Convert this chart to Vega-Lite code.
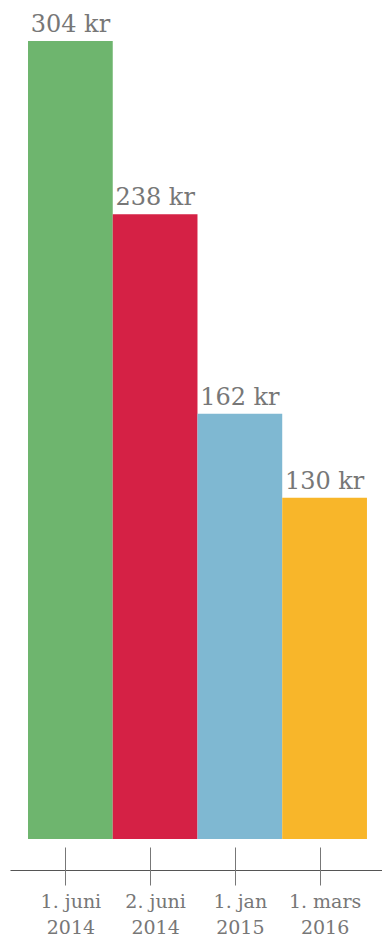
{
  "$schema": "https://vega.github.io/schema/vega-lite/v6.json",
  "autosize": "none",
  "padding": {"left": 10, "right": 0, "top": 0, "bottom": 97},
  "width": 372,
  "height": 839,
  "config": {"view": {"stroke": null}, "font": "DejaVu Serif"},
  "data": {"values": [
    {"dato": "1. juni 2014", "pris": 304},
    {"dato": "2. juni 2014", "pris": 238},
    {"dato": "1. jan 2015", "pris": 162},
    {"dato": "1. mars 2016", "pris": 130}
  ]},
  "transform": [{"calculate": "datum.pris + ' kr'", "as": "etikett"}],
  "resolve": {"axis": {"x": "independent"}},
  "layer": [
    {
      "mark": {"type": "bar"},
      "encoding": {
        "x": {
          "field": "dato", "type": "nominal", "sort": null,
          "scale": {"paddingInner": 0, "paddingOuter": 0.195, "align": 0.545},
          "axis": {"orient": "bottom", "title": null, "labels": false, "ticks": false, "domain": true,
                   "offset": 31, "domainColor": "#555", "domainWidth": 1.2, "grid": false}
        },
        "y": {"field": "pris", "type": "quantitative", "scale": {"domain": [0, 319.6], "nice": false}, "axis": null},
        "color": {
          "field": "dato", "type": "nominal", "sort": null,
          "scale": {"range": ["#6eb56e", "#d52145", "#7fb8d2", "#f8b62a"]},
          "legend": null
        }
      }
    },
    {
      "mark": {"type": "text", "baseline": "alphabetic", "align": "center", "dy": -9, "fontSize": 24, "color": "#777777", "font": "DejaVu Serif"},
      "encoding": {
        "x": {
          "field": "dato", "type": "nominal", "sort": null,
          "axis": {"orient": "bottom", "title": null, "domain": false, "grid": false, "offset": 8,
                   "ticks": true, "tickSize": 38, "tickColor": "#777", "tickWidth": 1, "tickOffset": -5,
                   "labelOffset": 5, "labelPadding": 22, "labelBaseline": "alphabetic", "labelLineHeight": 26,
                   "labelFont": "DejaVu Serif", "labelFontSize": 19, "labelColor": "#777777", "labelAngle": 0,
                   "labelExpr": "[slice(datum.label, 0, -5), slice(datum.label, -4)]"}
        },
        "y": {"field": "pris", "type": "quantitative"},
        "text": {"field": "etikett"}
      }
    }
  ]
}
